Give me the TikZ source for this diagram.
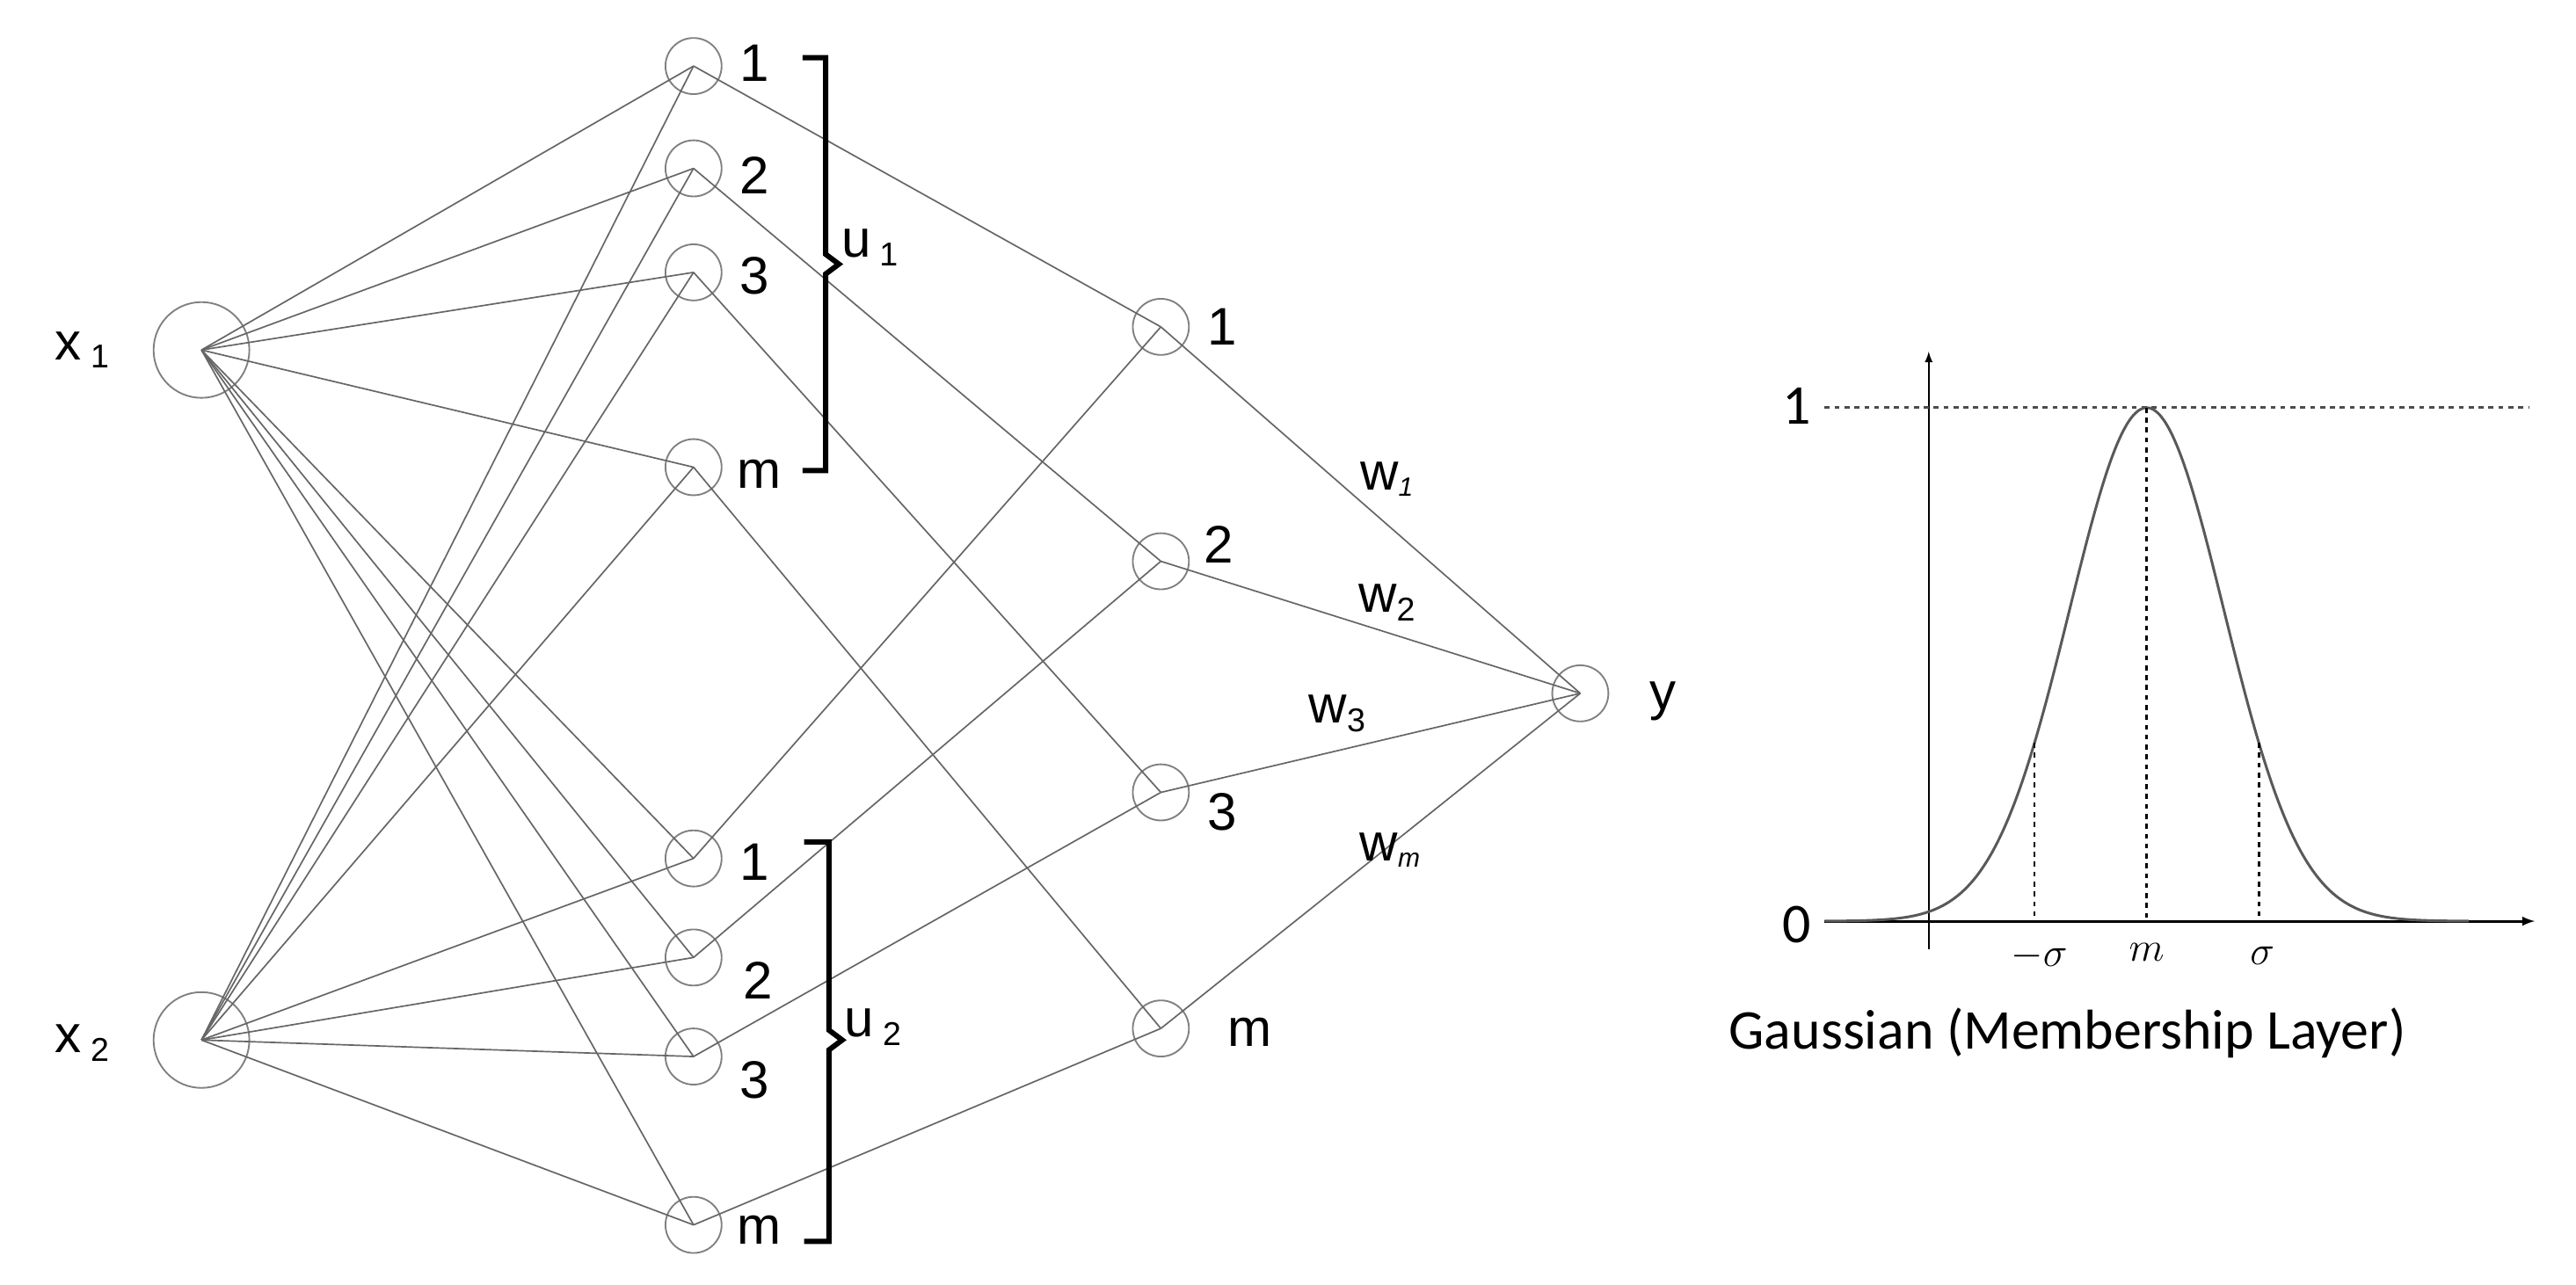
\documentclass[tikz,border=0pt]{standalone}
\usepackage{fontspec}
\setmainfont{Liberation Sans}
\newfontfamily\carl{Carlito}
\begin{document}
\begin{tikzpicture}[x=1pt,y=-1pt,
 big/.style={circle,draw=gray,line width=1pt,minimum size=58pt,inner sep=0pt},
 sm/.style={circle,draw=gray,line width=1pt,minimum size=34pt,inner sep=0pt},
 ln/.style={gray!80!black,line width=0.9pt},
 lab/.style={font=\fontsize{32}{34}\selectfont},
 br/.style={line width=3.2pt}]
\useasboundingbox (0,0) rectangle (1560,778);
\node[big] (x1) at (122,212) {};
\node[big] (x2) at (122,630) {};
\coordinate (c1) at (122,212); \coordinate (c2) at (122,630);
\node[lab,anchor=east] at (70,212) {x\,\textsubscript{\fontsize{20}{20}\selectfont 1}};
\node[lab,anchor=east] at (70,632) {x\,\textsubscript{\fontsize{20}{20}\selectfont 2}};
\foreach \n/\yy in {a1/40,a2/102,a3/165,am/283,b1/520,b2/580,b3/640,bm/742}{
 \node[sm] (\n) at (420,\yy) {};}
\foreach \n/\yy in {r1/198,r2/340,r3/480,rm/623}{\node[sm] (\n) at (703,\yy) {};}
\node[sm] (y) at (957,420) {};
\foreach \n in {a1,a2,a3,am,b1,b2,b3,bm}{
 \draw[ln] (c1) -- (\n.center); \draw[ln] (c2) -- (\n.center);}
\foreach \a/\r in {a1/r1,a2/r2,a3/r3,am/rm,b1/r1,b2/r2,b3/r3,bm/rm}{\draw[ln] (\a.center) -- (\r.center);}
\foreach \r in {r1,r2,r3,rm}{\draw[ln] (\r.center) -- (y.center);}
% labels
\node[lab] at (457,38) {1};\node[lab] at (457,106) {2};\node[lab] at (457,167) {3};\node[lab] at (460,287) {m};
\node[lab] at (457,522) {1};\node[lab] at (459,594) {2};\node[lab] at (457,654) {3};\node[lab] at (460,745) {m};
\node[lab] at (740,198) {1};\node[lab] at (738,330) {2};\node[lab] at (740,492) {3};\node[lab] at (757,625) {m};
\node[lab] at (1007,425) {y};
\node[lab] at (840,290) {w\textsubscript{\fontsize{16}{16}\selectfont\itshape 1}};
\node[lab] at (840,365) {w\textsubscript{\fontsize{20}{20}\selectfont 2}};
\node[lab] at (810,432) {w\textsubscript{\fontsize{20}{20}\selectfont 3}};
\node[lab] at (842,515) {w\textsubscript{\fontsize{16}{16}\selectfont\itshape m}};
% braces
\draw[br] (486,35) -- (500,35) -- (500,154) -- (508,160) -- (500,166) -- (500,285) -- (486,285);
\draw[br] (487,510) -- (502,510) -- (502,624) -- (510,630) -- (502,636) -- (502,752) -- (487,752);
\node[lab,anchor=west] at (506,150) {u\,\textsubscript{\fontsize{20}{20}\selectfont 1}};
\node[lab,anchor=west] at (508,622) {u\,\textsubscript{\fontsize{20}{20}\selectfont 2}};
% Gaussian
\draw[line width=1.2pt,-latex] (1168,575) -- (1168,213);
\draw[line width=1.6pt,-latex] (1105,558) -- (1535,558);
\draw[dashed,gray!60!black,line width=1.6pt] (1105,247) -- (1532,247);
\draw[gray!70!black,line width=1.6pt] plot[domain=1105:1495,samples=120,smooth] (\x,{558-311*exp(-1.06*((\x-1300)/68)^2)});
\foreach \xx in {1232,1368}{\draw[dashed,line width=1.5pt] (\xx,450) -- (\xx,558);}
\draw[dashed,line width=1.5pt] (1300,247) -- (1300,558);
\node[font=\carl\fontsize{34}{34}\selectfont] at (1088,246) {1};
\node[font=\carl\fontsize{34}{34}\selectfont] at (1088,560) {0};
\node[font=\fontsize{26}{26}\selectfont\bfseries] at (1235,579) {$-\sigma$};
\node[font=\fontsize{26}{26}\selectfont] at (1300,577) {$m$};
\node[font=\fontsize{26}{26}\selectfont] at (1370,579) {$\sigma$};
\node[font=\carl\fontsize{34}{34}\selectfont] at (1252,626) {Gaussian (Membership Layer)};
\end{tikzpicture}
\end{document}
